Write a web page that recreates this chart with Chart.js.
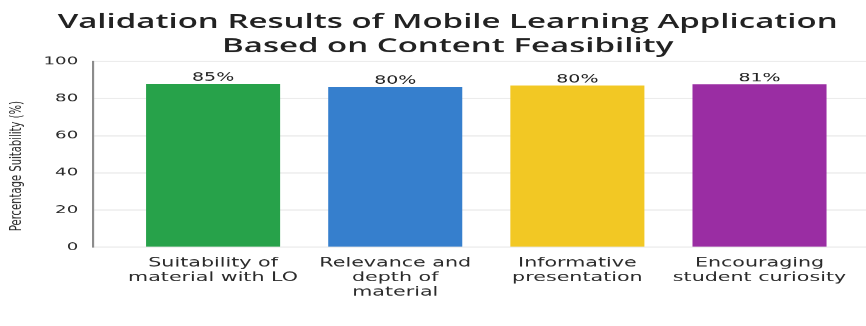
<!DOCTYPE html>
<html>
<head>
<meta charset="utf-8">
<script src="https://cdn.jsdelivr.net/npm/chart.js@4.4.1/dist/chart.umd.min.js"></script>
<style>
html,body{margin:0;padding:0;background:#fff;overflow:hidden;width:866px;height:326px;}
#wrap{position:absolute;left:0;top:0;width:525px;height:326px;transform:scaleX(1.64952);transform-origin:0 0;}
</style>
</head>
<body>
<div id="wrap"><canvas id="c"></canvas></div>
<script>
// ---- data ----
const titleLines = ["Validation Results of Mobile Learning Application", "Based on Content Feasibility"];
const categories = [
  ["Suitability of", "material with LO"],
  ["Relevance and", "depth of", "material"],
  ["Informative", "presentation"],
  ["Encouraging", "student curiosity"]
];
const barValues = [87.9, 86.3, 87.0, 87.7];      // bar heights as drawn
const valueLabels = ["85%", "80%", "80%", "81%"]; // printed labels
const barColors = ["#27a24a", "#367fcd", "#f2c824", "#9a2da3"];
const yTickValues = [0, 20, 40, 60, 80, 100];
const yAxisTitle = "Percentage Suitability (%)";

const valueLabelPlugin = {
  id: 'valueLabels',
  afterDatasetsDraw(chart) {
    const ctx = chart.ctx;
    const meta = chart.getDatasetMeta(0);
    ctx.save();
    ctx.font = '11.5px "DejaVu Sans"';
    ctx.fillStyle = '#222';
    ctx.textAlign = 'center';
    ctx.textBaseline = 'alphabetic';
    meta.data.forEach((bar, i) => ctx.fillText(valueLabels[i], bar.x, bar.y - 3));
    ctx.restore();
  }
};

new Chart(document.getElementById('c'), {
  type: 'bar',
  data: {
    datasets: [{
      data: categories.map((c, i) => ({ x: i, y: barValues[i] })),
      backgroundColor: barColors,
      borderWidth: 0,
      categoryPercentage: 1,
      barPercentage: 0.736
    }]
  },
  plugins: [valueLabelPlugin],
  options: {
    responsive: true,
    maintainAspectRatio: false,
    animation: false,
    devicePixelRatio: 1.65,
    layout: { padding: { left: 0, right: -17.6, top: 0, bottom: 0 } },
    plugins: {
      legend: { display: false },
      tooltip: { enabled: false },
      title: {
        display: true,
        text: titleLines,
        color: '#222',
        font: { family: '"Open Sans", "Liberation Sans", sans-serif', size: 20, weight: '600', lineHeight: 1.21 },
        padding: { top: 10, bottom: 2.8 }
      }
    },
    scales: {
      x: {
        type: 'linear',
        offset: false,
        min: -0.659,
        max: 3.586,
        grid: { display: false, drawTicks: false },
        border: { display: false },
        afterBuildTicks: (scale) => { scale.ticks = categories.map((c, i) => ({ value: i })); },
        afterFit: (scale) => { scale.height = 79.3; },
        ticks: {
          autoSkip: false,
          maxRotation: 0,
          padding: 9,
          color: '#2b2b2b',
          font: { family: '"DejaVu Sans", sans-serif', size: 12.5, lineHeight: 1.16 },
          callback: (v) => categories[v]
        }
      },
      y: {
        min: 0,
        max: 100,
        afterBuildTicks: (scale) => { scale.ticks = yTickValues.map(v => ({ value: v })); },
        afterFit: (scale) => { scale.width = 56.4; },
        grid: { color: '#e8e8e8', lineWidth: 1, drawTicks: false },
        border: { display: true, color: '#8c8c8c', width: 1.3 },
        ticks: {
          padding: 9,
          color: '#2b2b2b',
          font: { family: '"DejaVu Sans", sans-serif', size: 11 }
        },
        title: {
          display: true,
          text: '     ' + yAxisTitle,
          align: 'start',
          color: '#2b2b2b',
          font: { family: '"DejaVu Sans", sans-serif', size: 10, lineHeight: 1.2 },
          padding: { top: 4.3, bottom: 0 }
        }
      }
    }
  }
});
</script>
</body>
</html>
